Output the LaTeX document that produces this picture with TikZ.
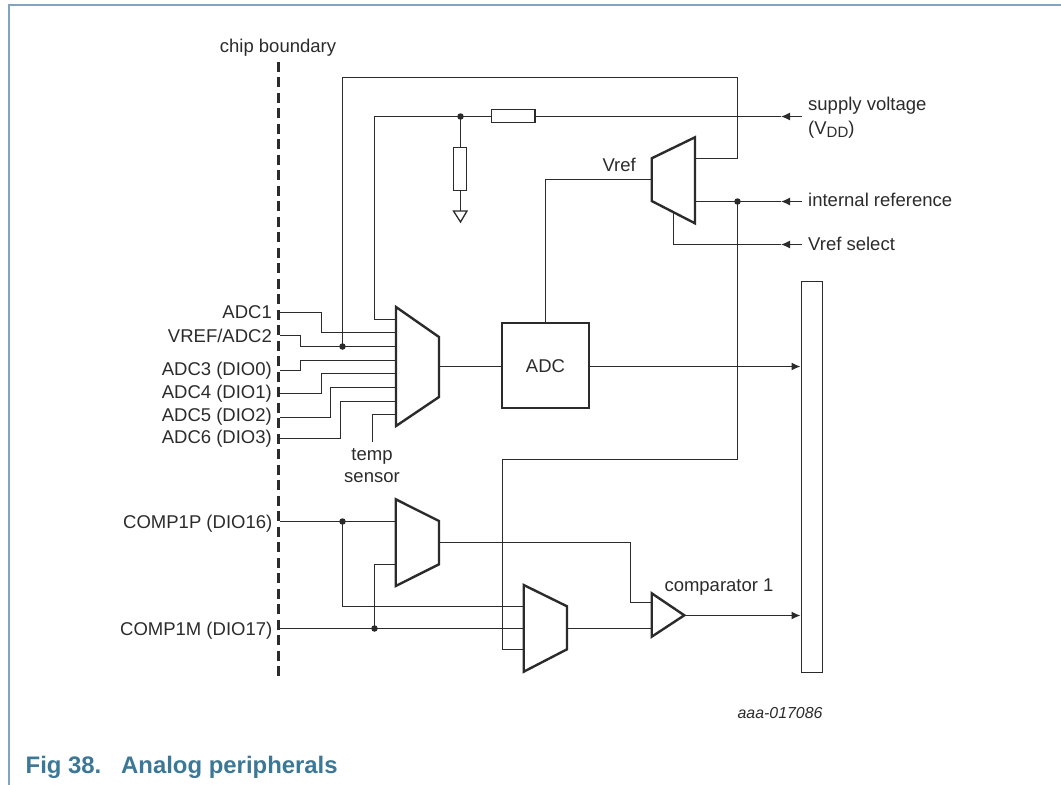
\documentclass[tikz,border=0pt]{standalone}
\usepackage{fontspec}
\setmainfont{Liberation Sans}
\usetikzlibrary{arrows.meta}
\definecolor{ink}{HTML}{2B2B2B}
\definecolor{framec}{HTML}{7FA6BD}
\definecolor{capc}{HTML}{3C7896}
\tikzset{
  wire/.style={draw=ink,line width=1.3pt},
  inarrow/.style={wire,-{Latex[length=9pt,width=8pt]}},
  heavy/.style={draw=ink,line width=2.4pt,line join=miter,fill=white},
  block/.style={draw=ink,line width=1.3pt,fill=white},
  dot/.style={circle,fill=ink,inner sep=0pt,minimum size=6.5pt},
  lbl/.style={font=\fontsize{18.5}{22}\selectfont,text=ink,inner sep=0pt},
  lblr/.style={lbl,anchor=base east},
  lbll/.style={lbl,anchor=base west},
  lblc/.style={lbl,anchor=base},
  capt/.style={anchor=base west,inner sep=0pt,font=\bfseries\fontsize{23.9}{28}\selectfont,text=capc},
}
\begin{document}
\begin{tikzpicture}[x=1pt,y=-1pt]
\useasboundingbox (0,0) rectangle (1061,785);
\draw[framec,line width=1.5pt] (9,785) -- (9,5) -- (1061,5);
\node[capt] (cap) at (25.5,773) {Fig 38.};
\node[capt] (capb) at (121,773) {Analog peripherals};
\node[lblc] (chip) at (278,52.5) {chip boundary};
\node[lbl,anchor=base east,font=\itshape\fontsize{15.9}{18}\selectfont] (aaa) at (822.7,718) {aaa-017086};
\coordinate (cbt) at (278.3,61.6); \coordinate (cbb) at (278.3,677);
\draw[draw=ink,line width=2.6pt,dash pattern=on 10pt off 5.5pt] (cbt) -- (cbb);
% labels
\node[lblr] (l1) at (272,318.3) {ADC1};
\node[lblr] (l2) at (272,342.7) {VREF/ADC2};
\node[lblr] (l3) at (272,375.3) {ADC3 (DIO0)};
\node[lblr] (l4) at (272,398.7) {ADC4 (DIO1)};
\node[lblr] (l5) at (272,421.7) {ADC5 (DIO2)};
\node[lblr] (l6) at (272,443.3) {ADC6 (DIO3)};
\node[lblr] (l7) at (272.5,528.3) {COMP1P (DIO16)};
\node[lblr] (l8) at (272.5,635) {COMP1M (DIO17)};
\node[lblc] (ts) at (372,460.7) {temp};
\node[lblc] (ts2) at (372,482) {sensor};
\node[lbll] (sv) at (808,110) {supply voltage};
\node[lbll] (sv2) at (808,134) {(V{\fontsize{15}{15}\selectfont\raisebox{-3.5pt}{DD}})};
\node[lbll] (ir) at (808,206.7) {internal reference};
\node[lbll] (vs) at (808,250) {Vref select};
\node[lblr] (vr) at (636,171.7) {Vref};
% ends
\coordinate (eS) at (801.5,116.5); \coordinate (eI) at (801.5,201.5); \coordinate (eV) at (801.5,244.5);
\coordinate (tS) at (781,116.5); \coordinate (tI) at (781,201.5); \coordinate (tV) at (781,244.5);
\coordinate (p1) at (280,312.5); \coordinate (p2) at (280,335.5); \coordinate (p3) at (280,370.5);
\coordinate (p4) at (280,393.5); \coordinate (p5) at (280,417.5); \coordinate (p6) at (280,438.5);
\coordinate (p7) at (280,521.5); \coordinate (p8) at (280,628.5); \coordinate (pt) at (372.5,441.7);
% wires under shapes
\draw[wire] (p1) -| (321.5,332.5) -- (396,332.5);
\draw[wire] (p2) -| (300.5,346.5) -- (396,346.5);
\draw[wire] (p3) -| (300.5,360.5) -- (396,360.5);
\draw[wire] (p4) -| (321.5,373.5) -- (396,373.5);
\draw[wire] (p5) -| (330.5,387.5) -- (396,387.5);
\draw[wire] (p6) -| (340.5,401.5) -- (396,401.5);
\draw[wire] (pt) |- (396,414.5);
\coordinate (j1) at (342.5,346.5);
\draw[wire] (j1) |- (737.5,77.5) |- (695,158.5);
\draw[inarrow] (eS) -- (tS);
\draw[wire] (tS) -- (374.5,116.5) |- (396,319.5);
\coordinate (j2) at (460.5,116.5);
\draw[wire] (j2) -- (460.5,211);
\draw[wire] (545.5,323) |- (651.7,179.5);
\draw[inarrow] (eI) -- (tI);
\draw[wire] (tI) -- (695,201.5);
\coordinate (j3) at (737.5,201.5);
\draw[wire] (j3) |- (502.5,459.5) |- (523.7,649.5);
\draw[inarrow] (eV) -- (tV);
\draw[wire] (tV) -| (673.5,213);
\draw[wire] (439,366.5) -- (502,366.5);
\draw[inarrow] (589,366.5) -- (800.5,366.5);
\draw[wire] (p7) -- (396,521.5);
\draw[wire] (p8) -- (523.7,628.5);
\coordinate (j4) at (342.5,521.5); \coordinate (j5) at (374.5,628.5);
\draw[wire] (j4) |- (523.7,606.5);
\draw[wire] (j5) |- (395.7,564.5);
\draw[wire] (439,542.5) -| (630.5,602.5) -- (651.7,602.5);
\draw[wire] (567,628.5) -- (651.7,628.5);
\draw[inarrow] (684.3,615.5) -- (800.5,615.5);
% blocks
\node[lblc] (cmp) at (719,591.7) {comparator 1};
\draw[block] (491.7,109.5) rectangle (535,122.5);
\draw[block] (453.5,147.7) rectangle (466.7,190.7);
\draw[block] (453.5,211) -- (467,211) -- (460.5,222) -- cycle;
\draw[block] (801.5,281.5) rectangle (822.7,672.3);
\draw[heavy] (502,323) rectangle (589,408);
\node[lblc] (adc) at (545.5,372.5) {ADC};
\draw[heavy] (396,307) -- (439,337) -- (439,397) -- (396,426) -- cycle;
\draw[heavy] (651.7,158.3) -- (695,137.3) -- (695,223.3) -- (651.7,201) -- cycle;
\draw[heavy] (395.7,499.3) -- (439,521) -- (439,564.3) -- (395.7,586) -- cycle;
\draw[heavy] (523.7,585) -- (567,606.3) -- (567,649.3) -- (523.7,671.7) -- cycle;
\draw[heavy] (651.7,593.3) -- (684.3,615.3) -- (651.7,636.7) -- cycle;
\node[dot] at (j1) {}; \node[dot] at (j2) {}; \node[dot] at (j3) {}; \node[dot] at (j4) {}; \node[dot] at (j5) {};
\end{tikzpicture}
\end{document}
